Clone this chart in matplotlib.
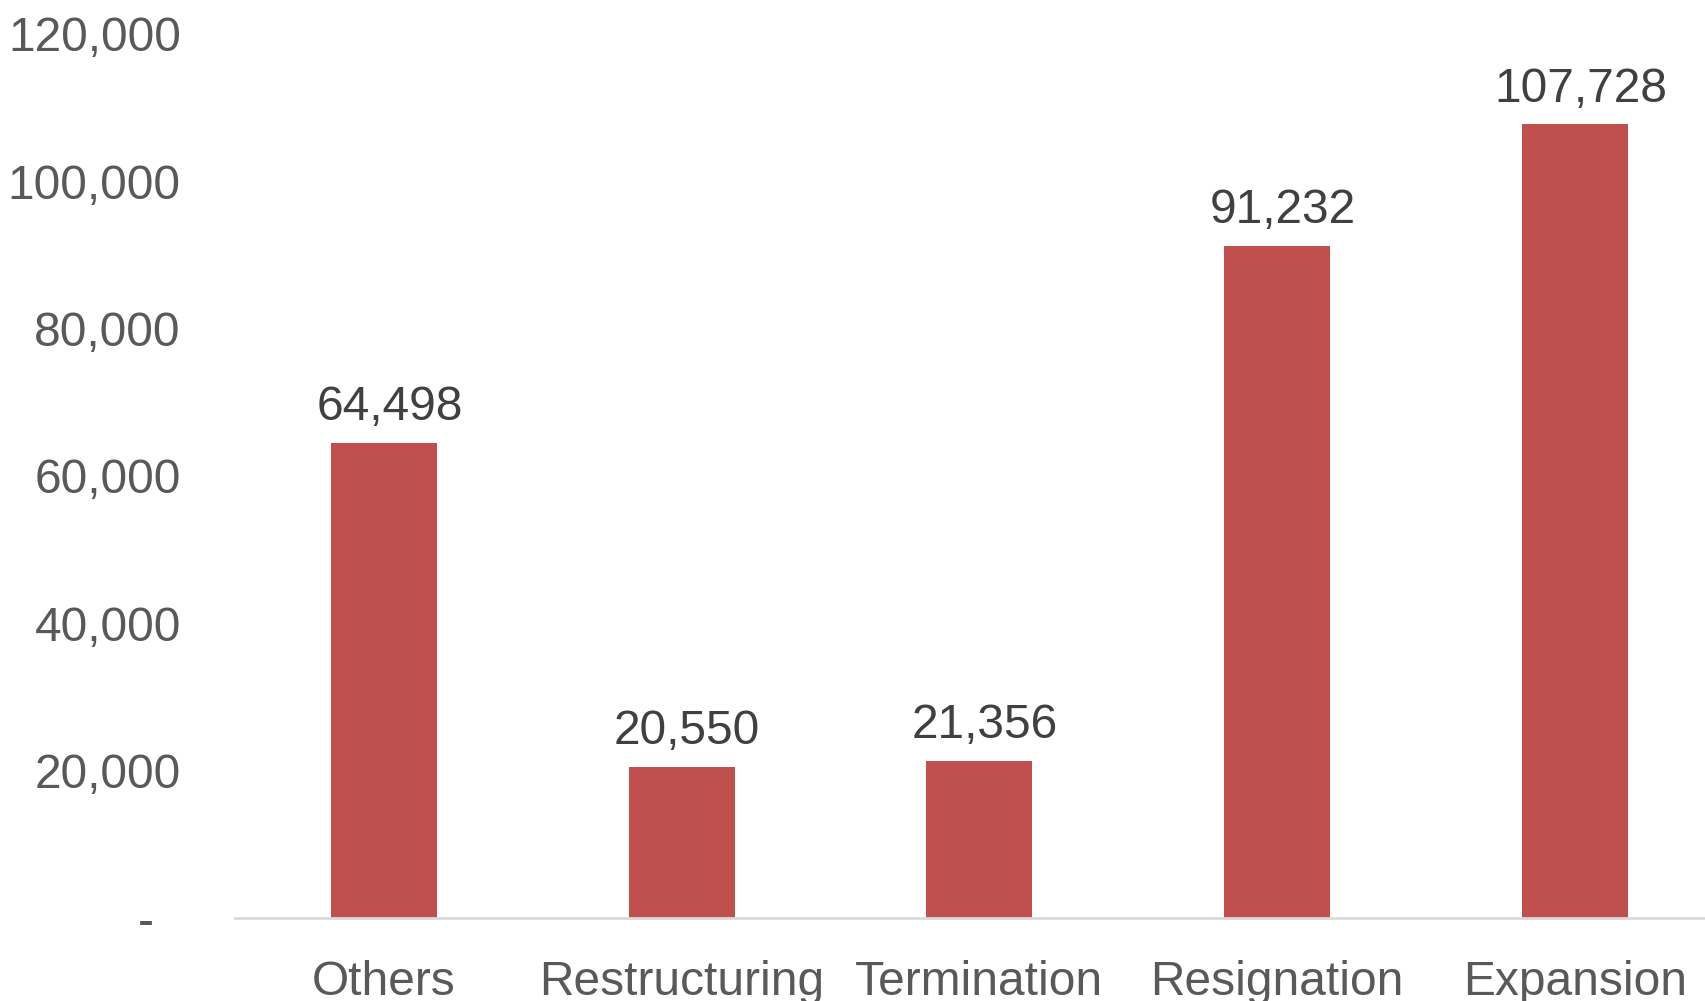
import matplotlib
matplotlib.use('Agg')
import matplotlib.pyplot as plt
from matplotlib.ticker import FuncFormatter

# DATA
categories = ['Others', 'Restructuring', 'Termination', 'Resignation', 'Expansion']
values = [64498, 20550, 21356, 91232, 107728]
yticks = [0, 20000, 40000, 60000, 80000, 100000, 120000]

plt.rcParams['font.family'] = ['Liberation Sans', 'DejaVu Sans']

fig = plt.figure(figsize=(17.05, 10.01), dpi=100)
ax = fig.add_axes([0.1378, 0.0829, 0.8733, 0.8835])

x = range(len(categories))
bars = ax.bar(x, values, width=0.356, color='#C0504D', zorder=2)

for b, v in zip(bars, values):
    ax.annotate(f'{v:,}', (b.get_x() + b.get_width()/2, v),
                xytext=(4, 9), textcoords='offset points',
                ha='center', va='bottom', fontsize=34.5, color='#404040')

ax.set_xlim(-0.5, len(categories) - 0.5)
ax.set_ylim(0, 120000)
ax.set_yticks(yticks)
ax.yaxis.set_major_formatter(FuncFormatter(lambda v, p: '-  ' if v == 0 else f'{int(v):,}'))
ax.set_xticks(list(x))
ax.set_xticklabels(categories)

ax.tick_params(axis='y', length=0, pad=39, labelsize=34.5, labelcolor='#595959')
ax.tick_params(axis='x', length=0, pad=30, labelsize=34.5, labelcolor='#595959')

for s in ['top', 'right', 'left']:
    ax.spines[s].set_visible(False)
ax.spines['bottom'].set_color('#D9D9D9')
ax.spines['bottom'].set_linewidth(2)
ax.spines['bottom'].set_zorder(3)

fig.savefig('out.png', dpi=100)
